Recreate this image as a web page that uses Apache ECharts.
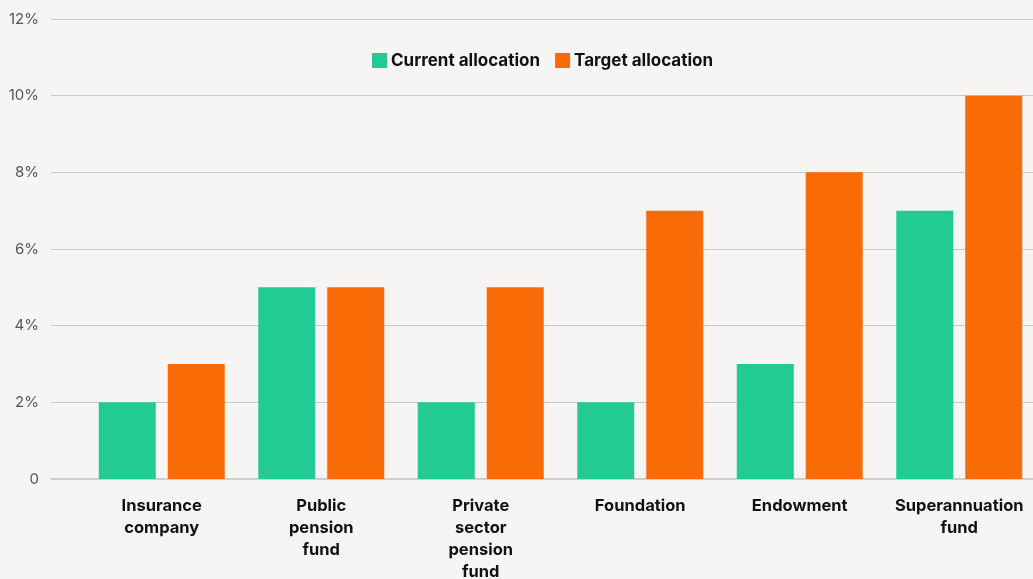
<!DOCTYPE html>
<html>
<head>
<meta charset="utf-8">
<script src="https://cdn.jsdelivr.net/npm/echarts@6/dist/echarts.min.js"></script>
<style>
  html, body { margin: 0; padding: 0; background: #f6f5f3; }
  #chart { width: 1033px; height: 579px; }
</style>
</head>
<body>
<div id="chart"></div>
<script>
var categories = ['Insurance\ncompany', 'Public\npension\nfund', 'Private\nsector\npension\nfund', 'Foundation', 'Endowment', 'Superannuation\nfund'];
var currentAllocation = [2, 5, 2, 2, 3, 7];
var targetAllocation = [3, 5, 5, 7, 8, 10];
var yTicks = [0, 2, 4, 6, 8, 10, 12];

var chart = echarts.init(document.getElementById('chart'));
var option = {
    backgroundColor: '#f6f5f3',
    textStyle: { fontFamily: 'Inter' },
    legend: {
        top: 52,
        left: 372,
        icon: 'rect',
        itemWidth: 15,
        itemHeight: 15,
        itemGap: 15,
        padding: 0,
        textStyle: { color: '#111', fontSize: 17, fontWeight: 'bold', fontFamily: 'Inter', padding: [0, 0, 0, -1] },
        data: ['Current allocation', 'Target allocation']
    },
    grid: [
        { left: 51, right: 0, top: 19, bottom: 100, outerBoundsMode: 'none' },
        { left: 82, right: -6, top: 19, bottom: 100, outerBoundsMode: 'none' }
    ],
    xAxis: [
        {
            gridIndex: 0, type: 'value', show: true, min: 0, max: 1,
            axisLine: { show: true, lineStyle: { color: '#cfcfcf', width: 2 } },
            axisTick: { show: false }, axisLabel: { show: false }, splitLine: { show: false }
        },
        {
            gridIndex: 1, type: 'category', data: categories,
            axisLine: { show: false }, axisTick: { show: false },
            axisLabel: {
                interval: 0, margin: 16, color: '#111', fontSize: 16.5, fontWeight: 'bold',
                lineHeight: 22, fontFamily: 'Inter'
            }
        }
    ],
    yAxis: [
        {
            gridIndex: 0, type: 'value', min: 0, max: 12, interval: 2,
            axisLine: { show: false }, axisTick: { show: false },
            axisLabel: {
                margin: 12, color: '#555', fontSize: 15, fontFamily: 'Inter',
                formatter: function (v) { return v === 0 ? '0' : v + '%'; }
            },
            splitLine: { lineStyle: { color: '#c9c9c9', width: 1 } }
        },
        {
            gridIndex: 1, type: 'value', min: 0, max: 12, interval: 2, show: false,
            splitLine: { show: false }
        }
    ],
    series: [
        {
            name: 'Current allocation', type: 'bar', xAxisIndex: 1, yAxisIndex: 1,
            data: currentAllocation, barWidth: 57, barGap: '21%',
            itemStyle: { color: '#21cb93' }
        },
        {
            name: 'Target allocation', type: 'bar', xAxisIndex: 1, yAxisIndex: 1,
            data: targetAllocation, barWidth: 57,
            itemStyle: { color: '#f96b06' }
        }
    ]
};
chart.setOption(option);
</script>
</body>
</html>
